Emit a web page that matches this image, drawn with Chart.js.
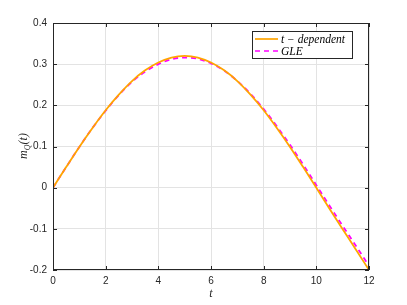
<!DOCTYPE html>
<html>
<head>
<meta charset="utf-8">
<script src="https://cdn.jsdelivr.net/npm/chart.js@4"></script>
<style>
  html, body { margin: 0; padding: 0; background: #fff; }
  canvas { display: block; }
</style>
</head>
<body>
<canvas id="chart" width="407" height="305"></canvas>
<script>
// values
const times = [0, 0.5, 1, 1.5, 2, 2.5, 3, 3.5, 4, 4.5, 5, 5.5, 6, 6.5, 7, 7.5, 8, 8.5, 9, 9.5, 10, 10.5, 11, 11.5, 12];
const tDependent = [0, 0.05, 0.099, 0.145, 0.188, 0.226, 0.259, 0.285, 0.304, 0.316, 0.320, 0.316, 0.304, 0.285, 0.259, 0.226, 0.188, 0.145, 0.099, 0.05, 0.0, -0.051, -0.101, -0.15, -0.2];
const gle = [0, 0.05, 0.099, 0.145, 0.187, 0.225, 0.257, 0.282, 0.300, 0.312, 0.316, 0.313, 0.302, 0.284, 0.259, 0.228, 0.191, 0.149, 0.104, 0.056, 0.006, -0.044, -0.093, -0.141, -0.19];
const xTicks = [0, 2, 4, 6, 8, 10, 12];
const yTicks = [-0.2, -0.1, 0, 0.1, 0.2, 0.3, 0.4];
const seriesNames = ['t \u2212 dependent', 'GLE'];

const axisColor = '#262626';
const tickFont = { family: 'Liberation Sans, Arial, sans-serif', size: 10 };

const toPoints = (ys) => times.map((t, i) => ({ x: t, y: ys[i] }));

// MATLAB-like box, inward ticks, axis title, legend
const matlabAxes = {
    id: 'matlabAxes',
    afterDraw(chart) {
        const { ctx, chartArea: a, scales: { x, y } } = chart;
        ctx.save();
        ctx.strokeStyle = axisColor;
        ctx.lineWidth = 1;
        ctx.strokeRect(a.left + 0.5, a.top + 0.5, a.right - a.left - 1, a.bottom - a.top - 1);
        ctx.beginPath();
        xTicks.forEach(v => {
            const px = Math.round(x.getPixelForValue(v)) + 0.5;
            ctx.moveTo(px, a.bottom); ctx.lineTo(px, a.bottom - 4);
            ctx.moveTo(px, a.top); ctx.lineTo(px, a.top + 4);
        });
        yTicks.forEach(v => {
            const py = Math.round(y.getPixelForValue(v)) + 0.5;
            ctx.moveTo(a.left, py); ctx.lineTo(a.left + 4, py);
            ctx.moveTo(a.right, py); ctx.lineTo(a.right - 4, py);
        });
        ctx.stroke();

        // y title m_Q(t)
        ctx.fillStyle = axisColor;
        ctx.translate(27, 146);
        ctx.rotate(-Math.PI / 2);
        ctx.textBaseline = 'alphabetic';
        ctx.font = 'italic 12px "Liberation Serif", serif';
        const w1 = ctx.measureText('m').width;
        ctx.font = 'italic 8px "Liberation Serif", serif';
        const w2 = ctx.measureText('Q').width;
        ctx.font = 'italic 12px "Liberation Serif", serif';
        const w3 = ctx.measureText('(t)').width;
        let sx = -(w1 + w2 + w3) / 2;
        ctx.fillText('m', sx, 0); sx += w1;
        ctx.font = 'italic 8px "Liberation Serif", serif';
        ctx.fillText('Q', sx, 3); sx += w2;
        ctx.font = 'italic 12px "Liberation Serif", serif';
        ctx.fillText('(t)', sx, 0);
        ctx.restore();

        // x title
        ctx.save();
        ctx.fillStyle = axisColor;
        ctx.font = 'italic 12px "Liberation Serif", serif';
        ctx.textAlign = 'center';
        ctx.textBaseline = 'alphabetic';
        ctx.fillText('t', (a.left + a.right) / 2, 297);
        ctx.restore();

        // legend
        ctx.save();
        const lx = 252, ly = 31, lw = 100, lh = 27;
        ctx.fillStyle = '#fff';
        ctx.fillRect(lx, ly, lw, lh);
        ctx.strokeStyle = axisColor;
        ctx.lineWidth = 1;
        ctx.strokeRect(lx + 0.5, ly + 0.5, lw, lh);
        chart.data.datasets.forEach((ds, i) => {
            const cy = ly + 8 + i * 12;
            ctx.strokeStyle = ds.borderColor;
            ctx.lineWidth = 1.7;
            ctx.setLineDash(ds.borderDash || []);
            ctx.beginPath();
            ctx.moveTo(lx + 3, cy); ctx.lineTo(lx + 26, cy);
            ctx.stroke();
            ctx.setLineDash([]);
            ctx.fillStyle = '#000';
            ctx.font = 'italic 11.5px "Liberation Serif", serif';
            ctx.textBaseline = 'middle';
            ctx.fillText(ds.label, lx + 29, cy + 1);
        });
        ctx.restore();
    }
};

new Chart(document.getElementById('chart'), {
    type: 'line',
    data: {
        datasets: [
            {
                label: seriesNames[0],
                data: toPoints(tDependent),
                borderColor: '#ffa500',
                borderWidth: 1.8,
                pointRadius: 0,
                cubicInterpolationMode: 'monotone'
            },
            {
                label: seriesNames[1],
                data: toPoints(gle),
                borderColor: '#ff00ff',
                borderWidth: 1.8,
                borderDash: [5, 4],
                pointRadius: 0,
                cubicInterpolationMode: 'monotone'
            }
        ]
    },
    options: {
        responsive: false,
        animation: false,
        layout: { padding: { top: 23, right: 38, left: 0, bottom: 0 } },
        plugins: { legend: { display: false }, tooltip: { enabled: false } },
        scales: {
            x: {
                type: 'linear',
                min: 0, max: 12,
                afterBuildTicks: (s) => { s.ticks = xTicks.map(v => ({ value: v })); },
                afterFit: (s) => { s.height = 35; },
                grid: { color: '#e3e3e3', lineWidth: 1, drawTicks: false },
                border: { display: false },
                ticks: { color: axisColor, font: tickFont, padding: 5, maxRotation: 0,
                    callback: (v) => String(v) }
            },
            y: {
                min: -0.2, max: 0.4,
                afterBuildTicks: (s) => { s.ticks = yTicks.map(v => ({ value: v })); },
                afterFit: (s) => { s.width = 53; },
                grid: { color: '#e3e3e3', lineWidth: 1, drawTicks: false },
                border: { display: false },
                ticks: { color: axisColor, font: tickFont, padding: 6,
                    callback: (v) => Math.abs(v) < 1e-9 ? '0' : v.toFixed(1) }
            }
        }
    },
    plugins: [matlabAxes]
});
</script>
</body>
</html>
